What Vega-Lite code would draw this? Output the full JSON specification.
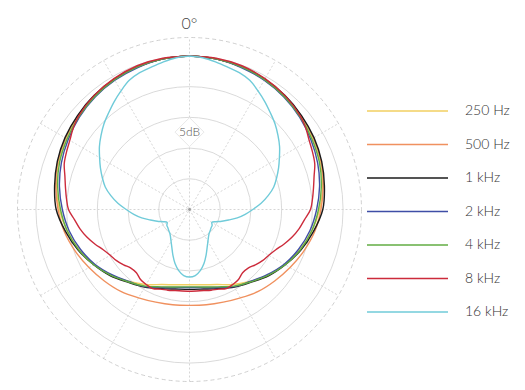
{
"$schema": "https://vega.github.io/schema/vega-lite/v6.json",
"width": 344, "height": 344,
"autosize": {"type": "none"},
"padding": {"left": 17.5, "top": 37.5, "right": 163.5, "bottom": 8.5},
"config": {"view": {"stroke": null}, "font": "Lato"},
"datasets": {
"spokes": [{"angle": 0}, {"angle": 30}, {"angle": 60}, {"angle": 90}, {"angle": 120}, {"angle": 150}],
"rings": [{"db": -20}, {"db": -15}, {"db": -10}, {"db": -5}, {"db": 0}],
"outer": [{"db": 3}],
"center": [{"db": -25}],
"label": [{"text": "5dB", "angle": 0, "db": -12.4}],
"top": [{"text": "0°", "angle": 0, "db": 4.45}],
"curves": [
{"freq":"250 Hz","angle":0,"db":0},{"freq":"250 Hz","angle":10,"db":-0.1},{"freq":"250 Hz","angle":20,"db":-0.3},{"freq":"250 Hz","angle":30,"db":-0.6},{"freq":"250 Hz","angle":40,"db":-1.0},{"freq":"250 Hz","angle":50,"db":-1.4},{"freq":"250 Hz","angle":60,"db":-1.8},{"freq":"250 Hz","angle":70,"db":-2.3},{"freq":"250 Hz","angle":80,"db":-3.0},{"freq":"250 Hz","angle":90,"db":-3.8},{"freq":"250 Hz","angle":100,"db":-4.8},{"freq":"250 Hz","angle":110,"db":-5.9},{"freq":"250 Hz","angle":120,"db":-7.1},{"freq":"250 Hz","angle":130,"db":-8.4},{"freq":"250 Hz","angle":140,"db":-9.7},{"freq":"250 Hz","angle":150,"db":-10.9},{"freq":"250 Hz","angle":160,"db":-12.0},{"freq":"250 Hz","angle":170,"db":-12.55},{"freq":"250 Hz","angle":180,"db":-12.75},{"freq":"250 Hz","angle":190,"db":-12.55},{"freq":"250 Hz","angle":200,"db":-12.0},{"freq":"250 Hz","angle":210,"db":-10.9},{"freq":"250 Hz","angle":220,"db":-9.7},{"freq":"250 Hz","angle":230,"db":-8.4},{"freq":"250 Hz","angle":240,"db":-7.1},{"freq":"250 Hz","angle":250,"db":-5.9},{"freq":"250 Hz","angle":260,"db":-4.8},{"freq":"250 Hz","angle":270,"db":-3.8},{"freq":"250 Hz","angle":280,"db":-3.0},{"freq":"250 Hz","angle":290,"db":-2.3},{"freq":"250 Hz","angle":300,"db":-1.8},{"freq":"250 Hz","angle":310,"db":-1.4},{"freq":"250 Hz","angle":320,"db":-1.0},{"freq":"250 Hz","angle":330,"db":-0.6},{"freq":"250 Hz","angle":340,"db":-0.3},{"freq":"250 Hz","angle":350,"db":-0.1},{"freq":"250 Hz","angle":360,"db":0},
{"freq":"500 Hz","angle":0,"db":0},{"freq":"500 Hz","angle":10,"db":-0.1},{"freq":"500 Hz","angle":20,"db":-0.3},{"freq":"500 Hz","angle":30,"db":-0.6},{"freq":"500 Hz","angle":40,"db":-0.9},{"freq":"500 Hz","angle":50,"db":-1.3},{"freq":"500 Hz","angle":60,"db":-1.7},{"freq":"500 Hz","angle":70,"db":-2.2},{"freq":"500 Hz","angle":80,"db":-2.9},{"freq":"500 Hz","angle":90,"db":-3.6},{"freq":"500 Hz","angle":100,"db":-4.3},{"freq":"500 Hz","angle":110,"db":-5.2},{"freq":"500 Hz","angle":120,"db":-6.1},{"freq":"500 Hz","angle":130,"db":-6.9},{"freq":"500 Hz","angle":140,"db":-7.6},{"freq":"500 Hz","angle":150,"db":-8.4},{"freq":"500 Hz","angle":160,"db":-8.95},{"freq":"500 Hz","angle":170,"db":-9.25},{"freq":"500 Hz","angle":180,"db":-9.4},{"freq":"500 Hz","angle":190,"db":-9.25},{"freq":"500 Hz","angle":200,"db":-8.95},{"freq":"500 Hz","angle":210,"db":-8.4},{"freq":"500 Hz","angle":220,"db":-7.6},{"freq":"500 Hz","angle":230,"db":-6.9},{"freq":"500 Hz","angle":240,"db":-6.1},{"freq":"500 Hz","angle":250,"db":-5.2},{"freq":"500 Hz","angle":260,"db":-4.3},{"freq":"500 Hz","angle":270,"db":-3.6},{"freq":"500 Hz","angle":280,"db":-2.9},{"freq":"500 Hz","angle":290,"db":-2.2},{"freq":"500 Hz","angle":300,"db":-1.7},{"freq":"500 Hz","angle":310,"db":-1.3},{"freq":"500 Hz","angle":320,"db":-0.9},{"freq":"500 Hz","angle":330,"db":-0.6},{"freq":"500 Hz","angle":340,"db":-0.3},{"freq":"500 Hz","angle":350,"db":-0.1},{"freq":"500 Hz","angle":360,"db":0},
{"freq":"1 kHz","angle":0,"db":0},{"freq":"1 kHz","angle":10,"db":-0.1},{"freq":"1 kHz","angle":20,"db":-0.3},{"freq":"1 kHz","angle":30,"db":-0.5},{"freq":"1 kHz","angle":40,"db":-0.8},{"freq":"1 kHz","angle":50,"db":-1.2},{"freq":"1 kHz","angle":60,"db":-1.6},{"freq":"1 kHz","angle":70,"db":-2.1},{"freq":"1 kHz","angle":80,"db":-2.7},{"freq":"1 kHz","angle":90,"db":-3.3},{"freq":"1 kHz","angle":100,"db":-4.5},{"freq":"1 kHz","angle":110,"db":-5.7},{"freq":"1 kHz","angle":120,"db":-7.0},{"freq":"1 kHz","angle":130,"db":-8.2},{"freq":"1 kHz","angle":140,"db":-9.5},{"freq":"1 kHz","angle":150,"db":-10.4},{"freq":"1 kHz","angle":160,"db":-11.3},{"freq":"1 kHz","angle":170,"db":-11.85},{"freq":"1 kHz","angle":180,"db":-12.0},{"freq":"1 kHz","angle":190,"db":-11.85},{"freq":"1 kHz","angle":200,"db":-11.3},{"freq":"1 kHz","angle":210,"db":-10.4},{"freq":"1 kHz","angle":220,"db":-9.5},{"freq":"1 kHz","angle":230,"db":-8.2},{"freq":"1 kHz","angle":240,"db":-7.0},{"freq":"1 kHz","angle":250,"db":-5.7},{"freq":"1 kHz","angle":260,"db":-4.5},{"freq":"1 kHz","angle":270,"db":-3.3},{"freq":"1 kHz","angle":280,"db":-2.7},{"freq":"1 kHz","angle":290,"db":-2.1},{"freq":"1 kHz","angle":300,"db":-1.6},{"freq":"1 kHz","angle":310,"db":-1.2},{"freq":"1 kHz","angle":320,"db":-0.8},{"freq":"1 kHz","angle":330,"db":-0.5},{"freq":"1 kHz","angle":340,"db":-0.3},{"freq":"1 kHz","angle":350,"db":-0.1},{"freq":"1 kHz","angle":360,"db":0},
{"freq":"2 kHz","angle":0,"db":0},{"freq":"2 kHz","angle":10,"db":-0.1},{"freq":"2 kHz","angle":20,"db":-0.4},{"freq":"2 kHz","angle":30,"db":-0.7},{"freq":"2 kHz","angle":40,"db":-1.1},{"freq":"2 kHz","angle":50,"db":-1.6},{"freq":"2 kHz","angle":60,"db":-2.2},{"freq":"2 kHz","angle":70,"db":-2.8},{"freq":"2 kHz","angle":80,"db":-3.5},{"freq":"2 kHz","angle":90,"db":-4.3},{"freq":"2 kHz","angle":100,"db":-5.1},{"freq":"2 kHz","angle":110,"db":-6.1},{"freq":"2 kHz","angle":120,"db":-7.2},{"freq":"2 kHz","angle":130,"db":-8.5},{"freq":"2 kHz","angle":140,"db":-9.7},{"freq":"2 kHz","angle":150,"db":-10.5},{"freq":"2 kHz","angle":160,"db":-11.5},{"freq":"2 kHz","angle":170,"db":-12.1},{"freq":"2 kHz","angle":180,"db":-12.3},{"freq":"2 kHz","angle":190,"db":-12.1},{"freq":"2 kHz","angle":200,"db":-11.5},{"freq":"2 kHz","angle":210,"db":-10.5},{"freq":"2 kHz","angle":220,"db":-9.7},{"freq":"2 kHz","angle":230,"db":-8.5},{"freq":"2 kHz","angle":240,"db":-7.2},{"freq":"2 kHz","angle":250,"db":-6.1},{"freq":"2 kHz","angle":260,"db":-5.1},{"freq":"2 kHz","angle":270,"db":-4.3},{"freq":"2 kHz","angle":280,"db":-3.5},{"freq":"2 kHz","angle":290,"db":-2.8},{"freq":"2 kHz","angle":300,"db":-2.2},{"freq":"2 kHz","angle":310,"db":-1.6},{"freq":"2 kHz","angle":320,"db":-1.1},{"freq":"2 kHz","angle":330,"db":-0.7},{"freq":"2 kHz","angle":340,"db":-0.4},{"freq":"2 kHz","angle":350,"db":-0.1},{"freq":"2 kHz","angle":360,"db":0},
{"freq":"4 kHz","angle":0,"db":0},{"freq":"4 kHz","angle":10,"db":-0.1},{"freq":"4 kHz","angle":20,"db":-0.3},{"freq":"4 kHz","angle":30,"db":-0.6},{"freq":"4 kHz","angle":40,"db":-1.0},{"freq":"4 kHz","angle":50,"db":-1.5},{"freq":"4 kHz","angle":60,"db":-2.0},{"freq":"4 kHz","angle":70,"db":-2.5},{"freq":"4 kHz","angle":80,"db":-3.2},{"freq":"4 kHz","angle":90,"db":-4.0},{"freq":"4 kHz","angle":100,"db":-4.8},{"freq":"4 kHz","angle":110,"db":-5.8},{"freq":"4 kHz","angle":120,"db":-7.0},{"freq":"4 kHz","angle":130,"db":-8.3},{"freq":"4 kHz","angle":140,"db":-9.6},{"freq":"4 kHz","angle":150,"db":-10.6},{"freq":"4 kHz","angle":160,"db":-11.6},{"freq":"4 kHz","angle":170,"db":-12.2},{"freq":"4 kHz","angle":180,"db":-12.4},{"freq":"4 kHz","angle":190,"db":-12.2},{"freq":"4 kHz","angle":200,"db":-11.6},{"freq":"4 kHz","angle":210,"db":-10.6},{"freq":"4 kHz","angle":220,"db":-9.6},{"freq":"4 kHz","angle":230,"db":-8.3},{"freq":"4 kHz","angle":240,"db":-7.0},{"freq":"4 kHz","angle":250,"db":-5.8},{"freq":"4 kHz","angle":260,"db":-4.8},{"freq":"4 kHz","angle":270,"db":-4.0},{"freq":"4 kHz","angle":280,"db":-3.2},{"freq":"4 kHz","angle":290,"db":-2.5},{"freq":"4 kHz","angle":300,"db":-2.0},{"freq":"4 kHz","angle":310,"db":-1.5},{"freq":"4 kHz","angle":320,"db":-1.0},{"freq":"4 kHz","angle":330,"db":-0.6},{"freq":"4 kHz","angle":340,"db":-0.3},{"freq":"4 kHz","angle":350,"db":-0.1},{"freq":"4 kHz","angle":360,"db":0},
{"freq":"8 kHz","angle":0,"db":0},{"freq":"8 kHz","angle":10,"db":0},{"freq":"8 kHz","angle":20,"db":-0.1},{"freq":"8 kHz","angle":30,"db":-0.4},{"freq":"8 kHz","angle":40,"db":-0.8},{"freq":"8 kHz","angle":50,"db":-1.4},{"freq":"8 kHz","angle":55,"db":-1.9},{"freq":"8 kHz","angle":60,"db":-2.5},{"freq":"8 kHz","angle":65,"db":-2.9},{"freq":"8 kHz","angle":70,"db":-3.3},{"freq":"8 kHz","angle":75,"db":-4.0},{"freq":"8 kHz","angle":80,"db":-4.5},{"freq":"8 kHz","angle":85,"db":-4.9},{"freq":"8 kHz","angle":90,"db":-5.3},{"freq":"8 kHz","angle":95,"db":-6.2},{"freq":"8 kHz","angle":100,"db":-6.9},{"freq":"8 kHz","angle":105,"db":-7.7},{"freq":"8 kHz","angle":110,"db":-8.6},{"freq":"8 kHz","angle":115,"db":-9.5},{"freq":"8 kHz","angle":120,"db":-10.1},{"freq":"8 kHz","angle":125,"db":-10.5},{"freq":"8 kHz","angle":130,"db":-11.0},{"freq":"8 kHz","angle":135,"db":-11.5},{"freq":"8 kHz","angle":140,"db":-11.55},{"freq":"8 kHz","angle":145,"db":-11.1},{"freq":"8 kHz","angle":150,"db":-10.9},{"freq":"8 kHz","angle":155,"db":-10.8},{"freq":"8 kHz","angle":160,"db":-11.2},{"freq":"8 kHz","angle":165,"db":-11.4},{"freq":"8 kHz","angle":170,"db":-11.6},{"freq":"8 kHz","angle":180,"db":-11.7},{"freq":"8 kHz","angle":190,"db":-11.6},{"freq":"8 kHz","angle":195,"db":-11.4},{"freq":"8 kHz","angle":200,"db":-11.2},{"freq":"8 kHz","angle":205,"db":-10.8},{"freq":"8 kHz","angle":210,"db":-10.9},{"freq":"8 kHz","angle":215,"db":-11.1},{"freq":"8 kHz","angle":220,"db":-11.55},{"freq":"8 kHz","angle":225,"db":-11.5},{"freq":"8 kHz","angle":230,"db":-11.0},{"freq":"8 kHz","angle":235,"db":-10.5},{"freq":"8 kHz","angle":240,"db":-10.1},{"freq":"8 kHz","angle":245,"db":-9.5},{"freq":"8 kHz","angle":250,"db":-8.6},{"freq":"8 kHz","angle":255,"db":-7.7},{"freq":"8 kHz","angle":260,"db":-6.9},{"freq":"8 kHz","angle":265,"db":-6.2},{"freq":"8 kHz","angle":270,"db":-5.3},{"freq":"8 kHz","angle":275,"db":-4.9},{"freq":"8 kHz","angle":280,"db":-4.5},{"freq":"8 kHz","angle":285,"db":-4.0},{"freq":"8 kHz","angle":290,"db":-3.3},{"freq":"8 kHz","angle":295,"db":-2.9},{"freq":"8 kHz","angle":300,"db":-2.5},{"freq":"8 kHz","angle":305,"db":-1.9},{"freq":"8 kHz","angle":310,"db":-1.4},{"freq":"8 kHz","angle":320,"db":-0.8},{"freq":"8 kHz","angle":330,"db":-0.4},{"freq":"8 kHz","angle":340,"db":-0.1},{"freq":"8 kHz","angle":350,"db":0},{"freq":"8 kHz","angle":360,"db":0},
{"freq":"16 kHz","angle":0,"db":0},{"freq":"16 kHz","angle":5,"db":-0.2},{"freq":"16 kHz","angle":10,"db":-0.6},{"freq":"16 kHz","angle":15,"db":-1.0},{"freq":"16 kHz","angle":20,"db":-1.3},{"freq":"16 kHz","angle":25,"db":-1.8},{"freq":"16 kHz","angle":30,"db":-2.7},{"freq":"16 kHz","angle":35,"db":-3.6},{"freq":"16 kHz","angle":40,"db":-4.5},{"freq":"16 kHz","angle":45,"db":-5.3},{"freq":"16 kHz","angle":50,"db":-6.2},{"freq":"16 kHz","angle":55,"db":-7.1},{"freq":"16 kHz","angle":60,"db":-8.1},{"freq":"16 kHz","angle":65,"db":-9.0},{"freq":"16 kHz","angle":70,"db":-9.9},{"freq":"16 kHz","angle":75,"db":-10.8},{"freq":"16 kHz","angle":80,"db":-12.0},{"freq":"16 kHz","angle":85,"db":-13.3},{"freq":"16 kHz","angle":90,"db":-14.7},{"freq":"16 kHz","angle":95,"db":-15.9},{"freq":"16 kHz","angle":100,"db":-17.1},{"freq":"16 kHz","angle":105,"db":-18.4},{"freq":"16 kHz","angle":110,"db":-19.4},{"freq":"16 kHz","angle":115,"db":-20.3},{"freq":"16 kHz","angle":120,"db":-20.8},{"freq":"16 kHz","angle":125,"db":-20.5},{"freq":"16 kHz","angle":130,"db":-20.4},{"freq":"16 kHz","angle":135,"db":-20.2},{"freq":"16 kHz","angle":140,"db":-20.0},{"freq":"16 kHz","angle":145,"db":-19.6},{"freq":"16 kHz","angle":150,"db":-19.0},{"freq":"16 kHz","angle":155,"db":-18.2},{"freq":"16 kHz","angle":160,"db":-17.1},{"freq":"16 kHz","angle":165,"db":-15.9},{"freq":"16 kHz","angle":170,"db":-14.9},{"freq":"16 kHz","angle":175,"db":-14.2},{"freq":"16 kHz","angle":180,"db":-14.0},{"freq":"16 kHz","angle":185,"db":-14.2},{"freq":"16 kHz","angle":190,"db":-14.9},{"freq":"16 kHz","angle":195,"db":-15.9},{"freq":"16 kHz","angle":200,"db":-17.1},{"freq":"16 kHz","angle":205,"db":-18.2},{"freq":"16 kHz","angle":210,"db":-19.0},{"freq":"16 kHz","angle":215,"db":-19.6},{"freq":"16 kHz","angle":220,"db":-20.0},{"freq":"16 kHz","angle":225,"db":-20.2},{"freq":"16 kHz","angle":230,"db":-20.4},{"freq":"16 kHz","angle":235,"db":-20.5},{"freq":"16 kHz","angle":240,"db":-20.8},{"freq":"16 kHz","angle":245,"db":-20.3},{"freq":"16 kHz","angle":250,"db":-19.4},{"freq":"16 kHz","angle":255,"db":-18.4},{"freq":"16 kHz","angle":260,"db":-17.1},{"freq":"16 kHz","angle":265,"db":-15.9},{"freq":"16 kHz","angle":270,"db":-14.7},{"freq":"16 kHz","angle":275,"db":-13.3},{"freq":"16 kHz","angle":280,"db":-12.0},{"freq":"16 kHz","angle":285,"db":-10.8},{"freq":"16 kHz","angle":290,"db":-9.9},{"freq":"16 kHz","angle":295,"db":-9.0},{"freq":"16 kHz","angle":300,"db":-8.1},{"freq":"16 kHz","angle":305,"db":-7.1},{"freq":"16 kHz","angle":310,"db":-6.2},{"freq":"16 kHz","angle":315,"db":-5.3},{"freq":"16 kHz","angle":320,"db":-4.5},{"freq":"16 kHz","angle":325,"db":-3.6},{"freq":"16 kHz","angle":330,"db":-2.7},{"freq":"16 kHz","angle":335,"db":-1.8},{"freq":"16 kHz","angle":340,"db":-1.3},{"freq":"16 kHz","angle":345,"db":-1.0},{"freq":"16 kHz","angle":350,"db":-0.6},{"freq":"16 kHz","angle":355,"db":-0.2},{"freq":"16 kHz","angle":360,"db":0}
]
},
"layer": [
{
"data": {"name": "spokes"},
"transform": [
{"calculate": "-28 * sin(datum.angle * PI / 180)", "as": "xa"},
{"calculate": "28 * sin(datum.angle * PI / 180)", "as": "xb"},
{"calculate": "-28 * cos(datum.angle * PI / 180)", "as": "ya"},
{"calculate": "28 * cos(datum.angle * PI / 180)", "as": "yb"}
],
"mark": {"type": "rule", "color": "#cbcbcb", "strokeWidth": 0.8, "strokeDash": [2, 2]},
"encoding": {
"x": {"field": "xa", "type": "quantitative", "scale": {"domain": [-28, 28], "nice": false, "zero": false}, "axis": null},
"y": {"field": "ya", "type": "quantitative", "scale": {"domain": [-28, 28], "nice": false, "zero": false}, "axis": null},
"x2": {"field": "xb"},
"y2": {"field": "yb"}
}
},
{
"data": {"name": "rings"},
"transform": [{"calculate": "datum.db + 25", "as": "r"}],
"mark": {"type": "point", "shape": "circle", "filled": false, "color": "#d0d0d0", "strokeWidth": 0.8, "opacity": 1},
"encoding": {
"x": {"datum": 0, "type": "quantitative"},
"y": {"datum": 0, "type": "quantitative"},
"size": {"field": "r", "type": "quantitative", "scale": {"type": "pow", "exponent": 2, "domain": [0, 28], "range": [0, 118336], "zero": true}, "legend": null}
}
},
{
"data": {"name": "outer"},
"transform": [{"calculate": "datum.db + 25", "as": "r"}],
"mark": {"type": "point", "shape": "circle", "filled": false, "color": "#c4c4c4", "strokeWidth": 0.8, "opacity": 1, "strokeDash": [4, 3]},
"encoding": {
"x": {"datum": 0, "type": "quantitative"},
"y": {"datum": 0, "type": "quantitative"},
"size": {"field": "r", "type": "quantitative", "legend": null}
}
},
{
"data": {"name": "center"},
"mark": {"type": "point", "shape": "circle", "filled": true, "color": "#9a9a9a", "size": 8, "opacity": 1},
"encoding": {
"x": {"datum": 0, "type": "quantitative"},
"y": {"datum": 0, "type": "quantitative"}
}
},
{
"data": {"name": "label"},
"transform": [
{"calculate": "(datum.db + 25) * sin(datum.angle * PI / 180)", "as": "x"},
{"calculate": "(datum.db + 25) * cos(datum.angle * PI / 180)", "as": "y"}
],
"layer": [
{"mark": {"type": "point", "shape": "diamond", "filled": true, "fill": "#ffffff", "stroke": "#e2e2e2", "strokeWidth": 0.8, "size": 841, "opacity": 1},
"encoding": {"x": {"field": "x", "type": "quantitative"}, "y": {"field": "y", "type": "quantitative"}}},
{"mark": {"type": "text", "font": "Lato", "fontWeight": 300, "fontSize": 12, "color": "#555555", "align": "center", "baseline": "middle"},
"encoding": {"x": {"field": "x", "type": "quantitative"}, "y": {"field": "y", "type": "quantitative"}, "text": {"field": "text"}}}
]
},
{
"data": {"name": "top"},
"transform": [
{"calculate": "(datum.db + 25) * sin(datum.angle * PI / 180)", "as": "x"},
{"calculate": "(datum.db + 25) * cos(datum.angle * PI / 180)", "as": "y"}
],
"mark": {"type": "text", "font": "Lato", "fontWeight": 300, "fontSize": 16, "color": "#444444", "align": "center", "baseline": "alphabetic"},
"encoding": {"x": {"field": "x", "type": "quantitative"}, "y": {"field": "y", "type": "quantitative"}, "text": {"field": "text"}}
},
{
"data": {"name": "curves"},
"transform": [
{"calculate": "(datum.db + 25) * sin(datum.angle * PI / 180)", "as": "x"},
{"calculate": "(datum.db + 25) * cos(datum.angle * PI / 180)", "as": "y"}
],
"mark": {"type": "line", "strokeWidth": 1.4, "interpolate": "catmull-rom"},
"encoding": {
"x": {"field": "x", "type": "quantitative"},
"y": {"field": "y", "type": "quantitative"},
"order": {"field": "angle", "type": "quantitative"},
"color": {
"field": "freq", "type": "nominal",
"scale": {"domain": ["250 Hz", "500 Hz", "1 kHz", "2 kHz", "4 kHz", "8 kHz", "16 kHz"],
"range": ["#f2cf61", "#f0915f", "#1b1b1b", "#3f4ea6", "#62ad43", "#cc2b3b", "#70cbd9"]},
"legend": {"orient": "none", "legendX": 399.5, "legendY": 57.5, "title": null, "symbolType": "M-4.4,0H1", "symbolSize": 900, "symbolStrokeWidth": 1.5, "labelFont": "Lato", "labelFontSize": 14, "labelFontWeight": 300, "labelColor": "#333333", "labelOffset": 16, "rowPadding": 10.5, "padding": 0, "labelLimit": 0}
}
}
}
]
}
